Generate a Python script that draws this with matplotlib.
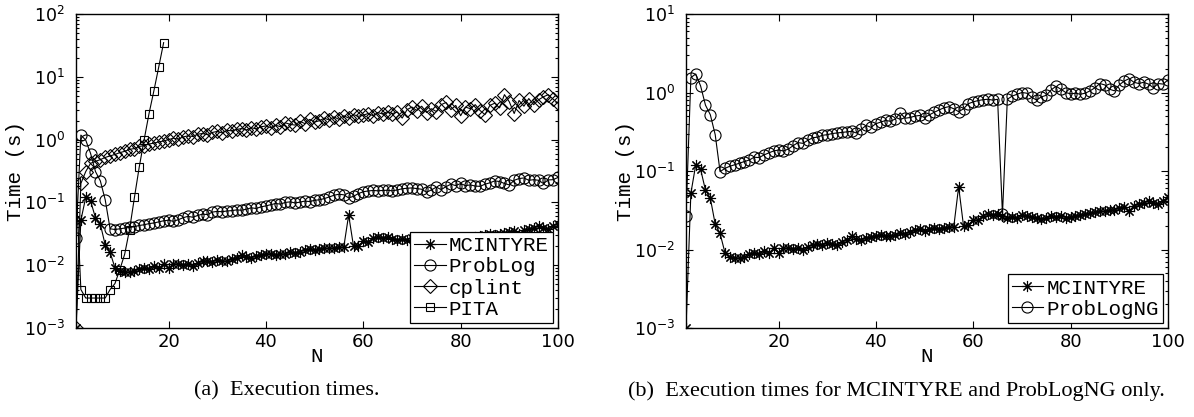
import numpy as np
import matplotlib
matplotlib.use("Agg")
import matplotlib.pyplot as plt

# problem size
n_vals = list(range(1, 101))

mcintyre = [0.001, 0.052, 0.12, 0.105, 0.057, 0.045, 0.021, 0.016, 0.0091, 0.0081,
            0.0078, 0.0078, 0.0080, 0.0088, 0.0090, 0.0088, 0.0097, 0.0089, 0.0104, 0.0090,
            0.0105, 0.0104, 0.0101, 0.0103, 0.0098, 0.0108, 0.0115, 0.0116, 0.0113, 0.0122,
            0.0118, 0.0115, 0.0125, 0.0132, 0.0148, 0.0135, 0.0132, 0.0140, 0.0145, 0.0150,
            0.0153, 0.0148, 0.0150, 0.0152, 0.0160, 0.0158, 0.0165, 0.0175, 0.0180, 0.0172,
            0.0182, 0.0186, 0.0185, 0.0190, 0.0192, 0.0195, 0.063, 0.0200, 0.0205, 0.0240,
            0.0235, 0.0270, 0.0280, 0.0275, 0.0280, 0.0265, 0.0255, 0.0260, 0.0255, 0.0275,
            0.0268, 0.0260, 0.0255, 0.0245, 0.0250, 0.0265, 0.0262, 0.0270, 0.0255, 0.0260,
            0.0270, 0.0275, 0.0285, 0.0290, 0.0300, 0.0310, 0.0305, 0.0315, 0.0320, 0.0335,
            0.0350, 0.0310, 0.0360, 0.0375, 0.0390, 0.0420, 0.0395, 0.0380, 0.0420, 0.0460]

problog = [0.027, 1.18, 0.98, 0.60, 0.31, 0.22, 0.11, 0.038, 0.037, 0.038,
           0.039, 0.040, 0.041, 0.043, 0.044, 0.046, 0.047, 0.049, 0.051, 0.052,
           0.050, 0.053, 0.057, 0.060, 0.058, 0.062, 0.065, 0.064, 0.070, 0.072,
           0.071, 0.073, 0.074, 0.076, 0.075, 0.078, 0.082, 0.080, 0.085, 0.088,
           0.092, 0.096, 0.094, 0.100, 0.102, 0.098, 0.101, 0.105, 0.103, 0.108,
           0.110, 0.115, 0.122, 0.130, 0.135, 0.132, 0.118, 0.125, 0.138, 0.148,
           0.152, 0.155, 0.153, 0.155, 0.156, 0.153, 0.158, 0.165, 0.168, 0.170,
           0.166, 0.162, 0.145, 0.158, 0.175, 0.160, 0.178, 0.195, 0.185, 0.200,
           0.185, 0.190, 0.182, 0.180, 0.195, 0.205, 0.220, 0.215, 0.200, 0.190,
           0.225, 0.240, 0.245, 0.225, 0.230, 0.225, 0.200, 0.228, 0.230, 0.250]

cplint = [0.001, 0.20, 0.31, 0.42, 0.45, 0.48, 0.52, 0.55, 0.58, 0.62,
          0.65, 0.70, 0.72, 0.78, 0.80, 0.85, 0.88, 0.92, 0.95, 1.00,
          1.05, 1.02, 1.10, 1.15, 1.12, 1.22, 1.25, 1.20, 1.30, 1.35,
          1.28, 1.40, 1.38, 1.45, 1.50, 1.42, 1.55, 1.48, 1.60, 1.65,
          1.55, 1.70, 1.60, 1.85, 1.75, 1.70, 1.95, 1.80, 2.10, 1.90,
          2.00, 2.20, 2.05, 2.30, 2.10, 2.40, 2.20, 2.50, 2.35, 2.45,
          2.60, 2.40, 2.70, 2.55, 2.80, 2.60, 2.75, 2.20, 3.00, 3.30,
          2.90, 3.40, 2.70, 3.10, 2.80, 3.60, 3.90, 3.00, 3.50, 2.40,
          3.30, 3.10, 3.60, 2.90, 2.50, 3.50, 3.80, 3.20, 5.20, 4.00,
          2.60, 4.20, 3.40, 4.50, 3.60, 4.30, 4.80, 5.20, 4.40, 3.80]

# PITA only up to N=19
pita_n = list(range(1, 20))
pita = [0.21, 0.0041, 0.0030, 0.0030, 0.0030, 0.0030, 0.0030, 0.0041, 0.0051, 0.0085,
        0.015, 0.037, 0.12, 0.37, 1.0, 2.6, 6.0, 14.4, 35.0]

problogng = [0.027, 1.55, 1.72, 1.21, 0.69, 0.52, 0.29, 0.098, 0.108, 0.115,
             0.120, 0.126, 0.132, 0.138, 0.150, 0.148, 0.160, 0.170, 0.180, 0.185,
             0.180, 0.190, 0.210, 0.230, 0.225, 0.245, 0.265, 0.270, 0.285, 0.290,
             0.300, 0.305, 0.310, 0.315, 0.320, 0.305, 0.340, 0.380, 0.360, 0.400,
             0.420, 0.440, 0.430, 0.460, 0.550, 0.470, 0.480, 0.500, 0.510, 0.480,
             0.520, 0.560, 0.600, 0.640, 0.660, 0.620, 0.570, 0.620, 0.720, 0.760,
             0.790, 0.810, 0.820, 0.800, 0.820, 0.028, 0.820, 0.900, 0.950, 1.000,
             0.980, 0.870, 0.800, 0.880, 0.920, 1.080, 1.200, 1.100, 1.000, 0.960,
             0.980, 0.950, 0.980, 1.050, 1.150, 1.300, 1.250, 1.100, 1.050, 1.250,
             1.400, 1.500, 1.350, 1.300, 1.350, 1.280, 1.150, 1.300, 1.280, 1.450]

captions = ["(a)  Execution times.", "(b)  Execution times for MCINTYRE and ProbLogNG only."]

mono = "Liberation Mono"
serif = "Liberation Serif"
star = (8, 2, 0)  # matlab-like asterisk

fig = plt.figure(figsize=(11.94, 4.17), dpi=100)
ax1 = fig.add_axes([76 / 1194, 89 / 417, 482 / 1194, 314 / 417])
ax2 = fig.add_axes([686 / 1194, 89 / 417, 482 / 1194, 314 / 417])

line_kw = dict(color="black", lw=0.8, mfc="none", mec="black", mew=0.8)

ax1.plot(n_vals, mcintyre, marker=star, ms=8, label="MCINTYRE", **line_kw)
ax1.plot(n_vals, problog, marker="o", ms=8, label="ProbLog", **line_kw)
ax1.plot(n_vals, cplint, marker="D", ms=7, label="cplint", **line_kw)
ax1.plot(pita_n, pita, marker="s", ms=6, label="PITA", **line_kw)

ax2.plot(n_vals, mcintyre, marker=star, ms=8, label="MCINTYRE", **line_kw)
ax2.plot(n_vals, problogng, marker="o", ms=8, label="ProbLogNG", **line_kw)

for ax, ytop, cap, cx in [(ax1, 100, captions[0], 287), (ax2, 10, captions[1], 896)]:
    ax.set_yscale("log")
    ax.set_xlim(1, 100)
    ax.set_ylim(1e-3, ytop)
    ax.set_xticks([20, 40, 60, 80, 100])
    ax.tick_params(which="both", direction="in", top=True, right=True, labelsize=13, width=0.8)
    ax.tick_params(which="major", length=5)
    ax.tick_params(which="minor", length=2.5)
    ax.tick_params(axis="y", labelsize=12.5, pad=8)
    for sp in ax.spines.values():
        sp.set_linewidth(1.0)
    ax.set_xlabel("N", fontfamily=mono, fontsize=15, labelpad=-3)
    ax.set_ylabel("Time (s)", fontfamily=mono, fontsize=15, labelpad=-1)
    leg = ax.legend(loc="lower right", prop={"family": mono, "size": 15},
                    fancybox=False, edgecolor="black", framealpha=1,
                    handlelength=1.5, handletextpad=0.15, borderpad=0.2,
                    labelspacing=0.1, borderaxespad=0.25)
    leg.get_frame().set_linewidth(0.9)
    fig.text(cx / 1194, 1 - 391 / 417, cap, ha="center", va="center",
             fontfamily=serif, fontsize=16)

fig.savefig("out.png", dpi=100)
